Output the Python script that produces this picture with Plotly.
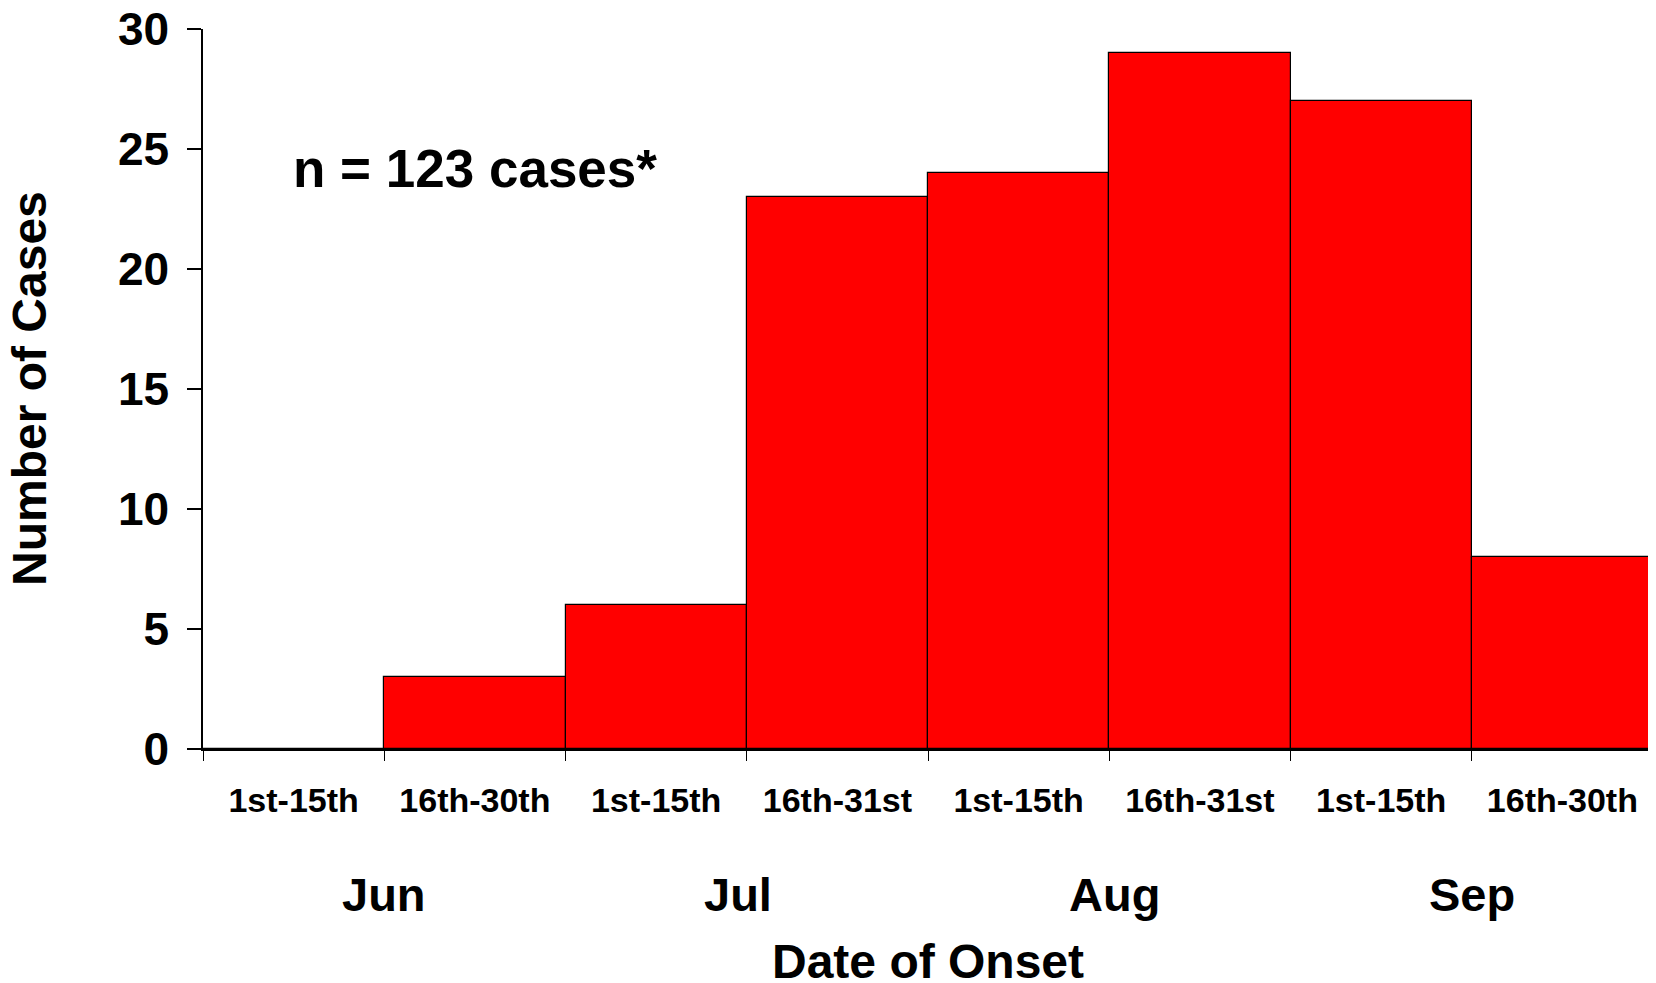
import plotly.graph_objects as go

# Data
bins = ["1st-15th", "16th-30th", "1st-15th", "16th-31st", "1st-15th", "16th-31st", "1st-15th", "16th-30th"]
cases = [0, 3, 6, 23, 24, 29, 27, 8]
months = ["Jun", "Jul", "Aug", "Sep"]
month_pos = [1.0, 2.95, 5.03, 7.0]
y_ticks = [0, 5, 10, 15, 20, 25, 30]

centers = [i + 0.5 for i in range(len(cases))]
edges = list(range(len(cases) + 1))

FONT = "Liberation Sans, Arial, sans-serif"

fig = go.Figure()
fig.add_trace(go.Bar(
    x=centers, y=cases, width=[1.0] * len(cases),
    marker=dict(color="#FF0000", line=dict(color="black", width=1.2)),
    showlegend=False, hoverinfo="skip",
))
# invisible trace on xaxis2 to activate boundary ticks
fig.add_trace(go.Scatter(x=[0, 8], y=[0, 0], xaxis="x2", mode="lines",
                         line=dict(width=0), showlegend=False, hoverinfo="skip"))

fig.update_layout(
    width=1648, height=975,
    margin=dict(l=195, r=3, t=21, b=234),
    plot_bgcolor="white", paper_bgcolor="white",
    font=dict(family=FONT, color="black"),
    bargap=0,
    xaxis=dict(
        range=[0, 8], tickvals=centers, ticktext=bins, ticks="",
        showline=True, linecolor="black", linewidth=1.5, showgrid=False, zeroline=False,
        tickfont=dict(family=FONT, size=34, color="black", weight="bold"),
        ticklabelstandoff=20, automargin=False,
    ),
    xaxis2=dict(
        range=[0, 8], overlaying="x", anchor="y", side="bottom",
        tickvals=edges, ticks="outside", ticklen=11, tickwidth=1.2, tickcolor="black",
        showticklabels=False, showline=False, showgrid=False, zeroline=False,
        automargin=False,
    ),
    yaxis=dict(
        range=[0, 30], tickvals=y_ticks, ticks="outside", ticklen=14, tickwidth=1.5,
        tickcolor="black", showline=True, linecolor="black", linewidth=1.5,
        showgrid=False, zeroline=False,
        tickfont=dict(family=FONT, size=46, color="black", weight="bold"),
        ticklabelstandoff=9, ticklabeloverflow="allow", automargin=False,
    ),
)

for m, p in zip(months, month_pos):
    fig.add_annotation(x=p, y=0, xref="x", yref="paper", text=m, showarrow=False,
                       yshift=-145, xanchor="center", yanchor="middle",
                       font=dict(family=FONT, size=47, color="black", weight="bold"))

fig.add_annotation(x=0.5, y=0, xref="paper", yref="paper", text="Date of Onset", showarrow=False,
                   yshift=-212, xanchor="center", yanchor="middle",
                   font=dict(family=FONT, size=48, color="black", weight="bold"))

fig.add_annotation(x=0, y=0.5, xref="paper", yref="paper", text="Number of Cases", showarrow=False,
                   xshift=-174, xanchor="center", yanchor="middle", textangle=-90,
                   font=dict(family=FONT, size=48, color="black", weight="bold"))

fig.add_annotation(x=1.5, y=24.2, xref="x", yref="y", text="n = 123 cases*", showarrow=False,
                   xanchor="center", yanchor="middle",
                   font=dict(family=FONT, size=53, color="black", weight="bold"))

fig.write_html("out.html")
